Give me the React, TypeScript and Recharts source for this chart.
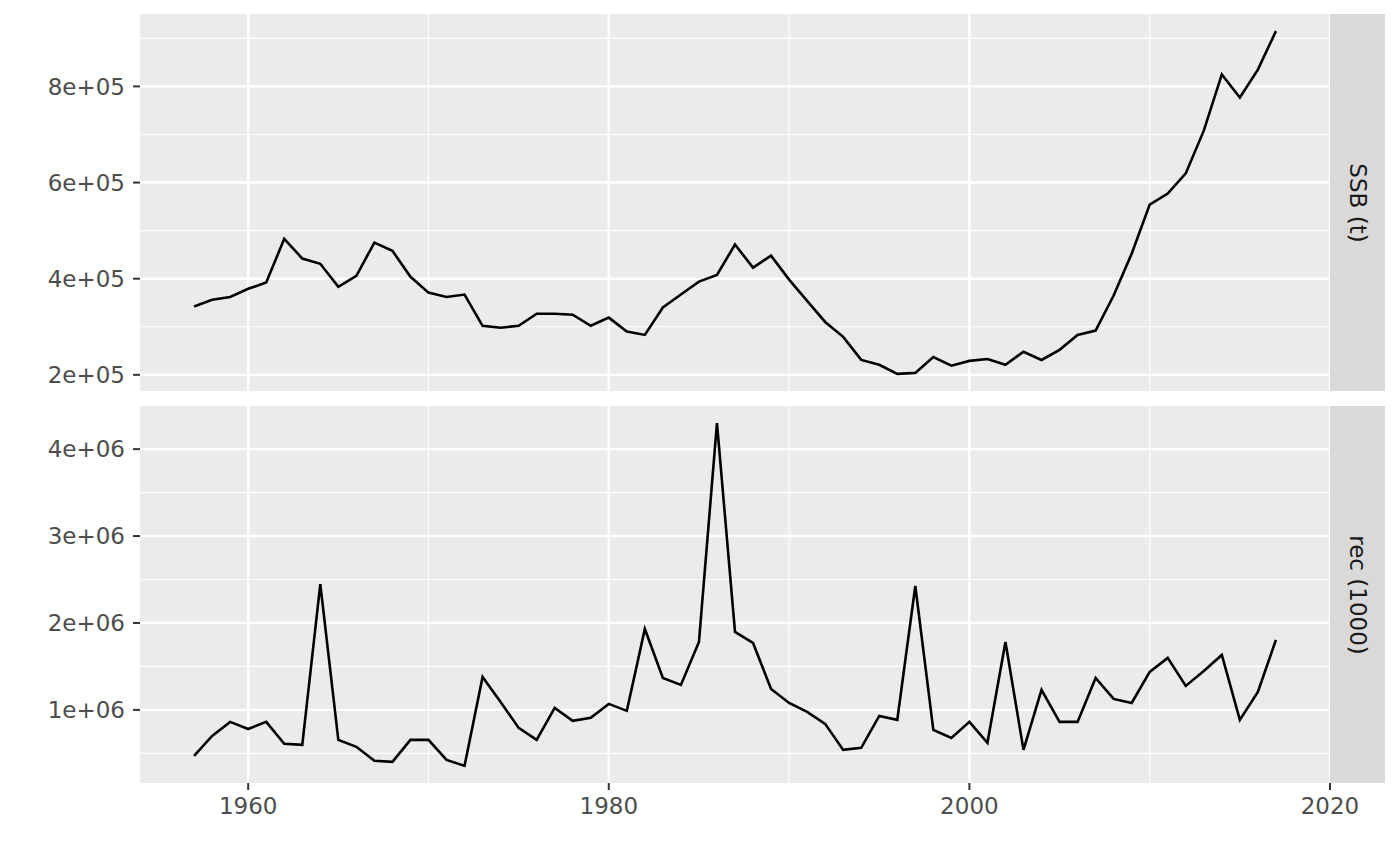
import React from 'react';
import { LineChart, Line, XAxis, YAxis, CartesianGrid, ReferenceLine } from 'recharts';

// years 1957 - 2017
const years = [
  1957, 1958, 1959, 1960, 1961, 1962, 1963, 1964, 1965, 1966, 1967, 1968, 1969, 1970, 1971, 1972, 1973, 1974, 1975, 1976,
  1977, 1978, 1979, 1980, 1981, 1982, 1983, 1984, 1985, 1986, 1987, 1988, 1989, 1990, 1991, 1992, 1993, 1994, 1995, 1996,
  1997, 1998, 1999, 2000, 2001, 2002, 2003, 2004, 2005, 2006, 2007, 2008, 2009, 2010, 2011, 2012, 2013, 2014, 2015, 2016,
  2017,
];

// SSB (t)
const ssb = [
  342000, 356000, 362000, 379000, 392000, 483000, 442000, 431000, 383000, 406000, 475000, 458000, 404000, 371000, 362000,
  367000, 302000, 298000, 302000, 327000, 327000, 325000, 302000, 319000, 290000, 283000, 340000, 367000, 394000, 408000,
  471000, 423000, 448000, 398000, 354000, 310000, 279000, 231000, 221000, 202000, 204000, 237000, 219000, 229000, 233000,
  221000, 248000, 231000, 252000, 283000, 292000, 365000, 452000, 554000, 577000, 619000, 708000, 825000, 777000, 835000,
  915000,
];

// rec (1000)
const rec = [
  471000, 700000, 862000, 780000, 862000, 610000, 598000, 2448000, 655000, 575000, 414000, 402000, 655000, 655000, 425000,
  356000, 1379000, 1092000, 793000, 655000, 1023000, 874000, 908000, 1069000, 989000, 1931000, 1368000, 1287000, 1782000,
  4299000, 1897000, 1770000, 1241000, 1080000, 977000, 839000, 540000, 563000, 931000, 885000, 2425000, 770000, 678000,
  862000, 621000, 1782000, 540000, 1230000, 862000, 862000, 1368000, 1126000, 1080000, 1437000, 1598000, 1276000,
  1448000, 1632000, 885000, 1207000, 1805000,
];

const xMajor = [1960, 1980, 2000, 2020];
const xMinor = [1970, 1990, 2010];
const ssbMajor = [200000, 400000, 600000, 800000];
const ssbMinor = [300000, 500000, 700000, 900000];
const recMajor = [1000000, 2000000, 3000000, 4000000];
const recMinor = [500000, 1500000, 2500000, 3500000];

const ssbData = years.map((y, i) => ({ year: y, value: ssb[i] }));
const recData = years.map((y, i) => ({ year: y, value: rec[i] }));

// ggplot style 5% expansion
const expand = (arr: number[]): [number, number] => {
  const lo = Math.min(...arr);
  const hi = Math.max(...arr);
  const pad = (hi - lo) * 0.05;
  return [lo - pad, hi + pad];
};
const xDomain = expand(years);

const sci = (v: number) => {
  const [m, e] = v.toExponential(0).split('e');
  const sign = e[0] === '-' ? '-' : '+';
  const digits = e.replace(/[+-]/, '').padStart(2, '0');
  return `${m}e${sign}${digits}`;
};

const FONT = '"DejaVu Sans", sans-serif';
const tickStyle = { fill: '#4D4D4D', fontSize: 23, fontFamily: FONT };
const tickLine = { stroke: '#333333', strokeWidth: 2 };

const Panel = ({
  data,
  yMajor,
  yMinor,
  showX,
  height,
  bottom,
}: {
  data: { year: number; value: number }[];
  yMajor: number[];
  yMinor: number[];
  showX: boolean;
  height: number;
  bottom: number;
}) => (
  <LineChart width={1400} height={height} data={data} margin={{ top: 14, right: 70, bottom, left: 0 }}>
    <CartesianGrid fill="#EBEBEB" stroke="none" />
    <XAxis
      dataKey="year"
      type="number"
      domain={xDomain}
      ticks={xMajor}
      allowDataOverflow
      hide={!showX}
      height={60}
      axisLine={false}
      tickSize={7}
      tickMargin={8}
      tickLine={tickLine}
      tick={tickStyle}
    />
    <YAxis
      type="number"
      domain={expand(data.map((d) => d.value))}
      ticks={yMajor}
      allowDataOverflow
      width={140}
      axisLine={false}
      tickSize={7}
      tickMargin={8}
      tickLine={tickLine}
      tick={tickStyle}
      tickFormatter={sci}
    />
    {yMinor.map((v) => (
      <ReferenceLine key={'ym' + v} y={v} stroke="#FFFFFF" strokeWidth={1.2} />
    ))}
    {xMinor.map((v) => (
      <ReferenceLine key={'xm' + v} x={v} stroke="#FFFFFF" strokeWidth={1.2} />
    ))}
    {yMajor.map((v) => (
      <ReferenceLine key={'yM' + v} y={v} stroke="#FFFFFF" strokeWidth={2.4} />
    ))}
    {xMajor.map((v) => (
      <ReferenceLine key={'xM' + v} x={v} stroke="#FFFFFF" strokeWidth={2.4} />
    ))}
    <Line
      type="linear"
      dataKey="value"
      stroke="#000000"
      strokeWidth={2.6}
      dot={false}
      activeDot={false}
      isAnimationActive={false}
    />
  </LineChart>
);

const Strip = ({ top, label }: { top: number; label: string }) => (
  <div
    style={{
      position: 'absolute',
      left: 1330,
      top,
      width: 55,
      height: 377,
      background: '#D9D9D9',
      display: 'flex',
      alignItems: 'center',
      justifyContent: 'center',
    }}
  >
    <div
      style={{
        transform: 'rotate(90deg)',
        whiteSpace: 'nowrap',
        fontFamily: FONT,
        fontSize: 23,
        color: '#1A1A1A',
      }}
    >
      {label}
    </div>
  </div>
);

export default function App() {
  return (
    <div style={{ position: 'absolute', left: 0, top: 0, width: 1400, height: 866, background: '#FFFFFF' }}>
      <div style={{ position: 'absolute', left: 0, top: 0 }}>
        <Panel data={ssbData} yMajor={ssbMajor} yMinor={ssbMinor} showX={false} height={400} bottom={9} />
      </div>
      <div style={{ position: 'absolute', left: 0, top: 392 }}>
        <Panel data={recData} yMajor={recMajor} yMinor={recMinor} showX={true} height={474} bottom={23} />
      </div>
      <Strip top={14} label="SSB (t)" />
      <Strip top={406} label="rec (1000)" />
    </div>
  );
}
